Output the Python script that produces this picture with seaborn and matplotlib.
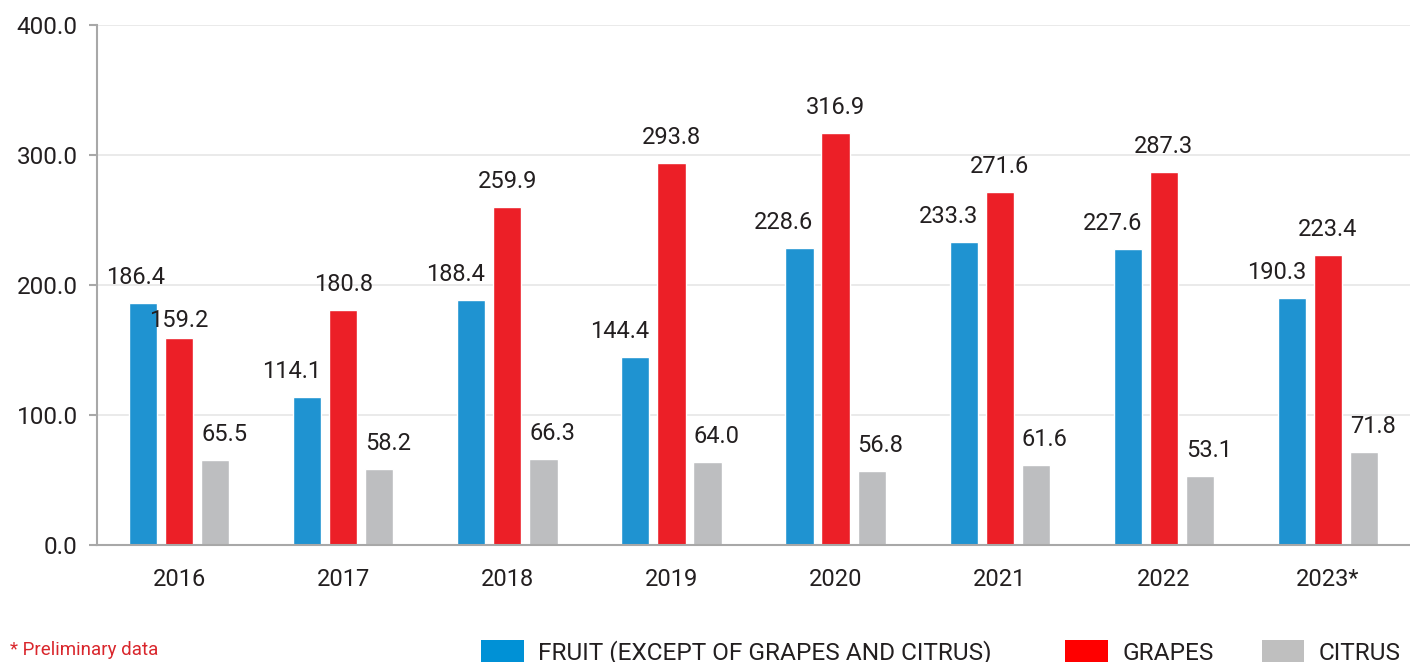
import matplotlib
matplotlib.use("Agg")
import matplotlib.pyplot as plt
import seaborn as sns
import pandas as pd
from matplotlib.patches import Patch

years = ["2016", "2017", "2018", "2019", "2020", "2021", "2022", "2023*"]
fruit = [186.4, 114.1, 188.4, 144.4, 228.6, 233.3, 227.6, 190.3]
grapes = [159.2, 180.8, 259.9, 293.8, 316.9, 271.6, 287.3, 223.4]
citrus = [65.5, 58.2, 66.3, 64.0, 56.8, 61.6, 53.1, 71.8]
series = ["FRUIT (EXCEPT OF GRAPES AND CITRUS)", "GRAPES", "CITRUS"]
bar_colors = ["#1f93d1", "#ec1f27", "#bdbec0"]
legend_colors = ["#0091d6", "#ff0000", "#bfbfbf"]
yticks = [0, 100, 200, 300, 400]

sns.set_theme(style="white")
plt.rcParams["font.family"] = ["Roboto", "DejaVu Sans"]

df = pd.DataFrame({
    "year": years * 3,
    "series": [series[0]] * 8 + [series[1]] * 8 + [series[2]] * 8,
    "value": fruit + grapes + citrus,
})

fig = plt.figure(figsize=(14.10, 6.62), dpi=100)
ax = fig.add_axes([0.0688, 0.177, 0.9312, 0.785])

sns.barplot(data=df, x="year", y="value", hue="series", order=years,
            hue_order=series, palette=bar_colors, width=0.66, gap=0.22,
            saturation=1, ax=ax, legend=False, errorbar=None)

txt_color = "#231f20"
# blue labels end at the bar's right edge, red are centred, grey start at the left edge
for i, cont in enumerate(ax.containers):
    for j, p in enumerate(cont.patches):
        h = p.get_height()
        x0 = p.get_x()
        w = p.get_width()
        dx, dy = 0, 13.5
        if i == 0:
            xa, ha = x0 + w, "right"
            if j == 0:
                dx = 6
        elif i == 1:
            xa, ha = x0 + w / 2, "center"
            if j == 0:
                dy = 8
        else:
            xa, ha = x0, "left"
        ax.annotate(f"{h:.1f}", (xa, h), xytext=(dx, dy),
                    textcoords="offset points", ha=ha, va="baseline",
                    fontsize=17, color=txt_color)

ax.set_ylim(0, 400)
ax.set_xlim(-0.5, 7.5)
ax.set_yticks(yticks)
ax.set_yticklabels([f"{v:.1f}" for v in yticks], fontsize=17.5, color=txt_color)
ax.tick_params(axis="x", labelsize=17, colors=txt_color, length=0, pad=17)
ax.tick_params(axis="y", length=6, width=1.5, color="#a8a8a8", pad=8, left=True)
for lab in ax.get_xticklabels():
    lab.set_color(txt_color)
ax.set_xlabel("")
ax.set_ylabel("")
ax.yaxis.grid(True, color="#e6e6e6", linewidth=1.2)
ax.set_axisbelow(True)
for s in ["top", "right"]:
    ax.spines[s].set_visible(False)
ax.spines["left"].set_color("#a8a8a8")
ax.spines["left"].set_linewidth(1.5)
ax.spines["bottom"].set_color("#a8a8a8")
ax.spines["bottom"].set_linewidth(1.5)

handles = [Patch(facecolor=c, edgecolor="none") for c in legend_colors]
leg_kw = dict(frameon=False, fontsize=17.6, handlelength=1.75, handleheight=1.0,
              handletextpad=0.6, borderpad=0, borderaxespad=0,
              labelcolor="#231f20")
fig.legend(handles[:1], series[:1], loc="lower left",
           bbox_to_anchor=(481 / 1410, -0.004), ncol=1, **leg_kw)
fig.legend(handles[1:], series[1:], loc="lower right",
           bbox_to_anchor=(1401 / 1410, -0.004), ncol=2, columnspacing=1.95,
           **leg_kw)

fig.text(0.007, 0.004, "* Preliminary data", fontsize=13.5, color="#d9262c",
         ha="left", va="bottom")

fig.savefig("out.png", dpi=100)
